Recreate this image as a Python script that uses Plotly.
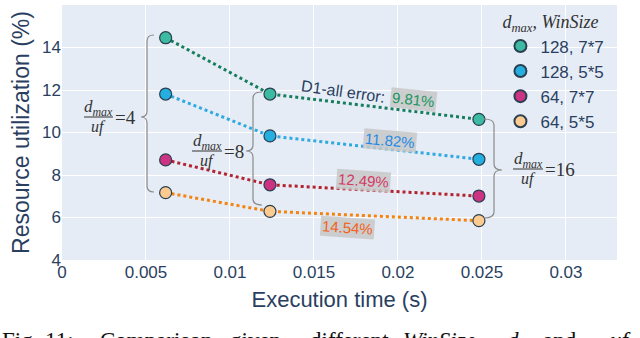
import plotly.graph_objects as go

# ---- data ----
exec_time = [0.00617, 0.01238, 0.02482]
series_names = ["128, 7*7", "128, 5*5", "64, 7*7", "64, 5*5"]
util_128_77 = [14.46, 11.81, 10.62]
util_128_55 = [11.81, 9.84, 8.74]
util_64_77 = [8.71, 7.54, 7.01]
util_64_55 = [7.17, 6.29, 5.85]
error_labels = ["9.81%", "11.82%", "12.49%", "14.54%"]
x_ticks = [0, 0.005, 0.01, 0.015, 0.02, 0.025, 0.03]
x_tick_text = ["0", "0.005", "0.01", "0.015", "0.02", "0.025", "0.03"]
y_ticks = [4, 6, 8, 10, 12, 14, 16]
caption_words = ["Fig.", "11:", "Comparison", "given", "different",
                 "<i>WinSize</i>,", "<i>d<sub>max</sub></i>,", "and", "<i>uf</i>"]

series_values = [util_128_77, util_128_55, util_64_77, util_64_55]
fill_colors = ["#3dbaa2", "#25afe0", "#cc3382", "#fdca90"]
line_colors = ["#177d5c", "#30a9e0", "#b3232f", "#f5830f"]
label_colors = ["#17955f", "#1f8ae6", "#d23a66", "#f2621a"]

# plot area geometry (pixels)
L, R, T, B = 62, 617, 5, 260
XMAX = 0.03304
YMIN, YMAX = 4, 16


def X(px):
    return (px - L) / (R - L) * XMAX


def Y(py):
    return YMAX - (py - T) / (B - T) * (YMAX - YMIN)


fig = go.Figure()
for name, vals, fc, lc in zip(series_names, series_values, fill_colors, line_colors):
    fig.add_trace(go.Scatter(
        x=exec_time, y=vals, name=name, mode="lines+markers", showlegend=False,
        line=dict(color=lc, width=3, dash="dot"),
        marker=dict(size=12, color=fc, line=dict(color="#2a3f50", width=1.2)),
    ))
# marker-only legend entries
for name, fc in zip(series_names, fill_colors):
    fig.add_trace(go.Scatter(
        x=[None], y=[None], name=name, mode="markers",
        marker=dict(size=12, color=fc, line=dict(color="#2a3f50", width=1.2)),
    ))

shapes = []


def brace(lx, top, bot, tipx, tipy, hx):
    d = 6
    p = (f"M {X(hx)},{Y(top)} Q {X(lx)},{Y(top)} {X(lx)},{Y(top + d)} "
         f"L {X(lx)},{Y(tipy - d)} Q {X(lx)},{Y(tipy)} {X(tipx)},{Y(tipy)} "
         f"Q {X(lx)},{Y(tipy)} {X(lx)},{Y(tipy + d)} "
         f"L {X(lx)},{Y(bot - d)} Q {X(lx)},{Y(bot)} {X(hx)},{Y(bot)}")
    shapes.append(dict(type="path", path=p, xref="x", yref="y",
                       line=dict(color="#8a8a8a", width=1.2)))


brace(147, 35, 192, 141, 117, 154)
brace(253, 92, 205, 246, 151, 262)
brace(494, 119, 218, 502, 170, 484)

annotations = []
SERIF = "Liberation Serif, Times New Roman, serif"


def fraction(cx, cy, x0, x1, eq):
    annotations.append(dict(x=X(cx), y=Y(cy - 9), xref="x", yref="y",
                            text="<i>d<sub>max</sub></i>", showarrow=False,
                            font=dict(family=SERIF, size=17, color="#333333")))
    annotations.append(dict(x=X(cx), y=Y(cy + 10), xref="x", yref="y",
                            text="<i>uf</i>", showarrow=False,
                            font=dict(family=SERIF, size=16, color="#333333")))
    shapes.append(dict(type="line", x0=X(x0), x1=X(x1), y0=Y(cy), y1=Y(cy),
                       xref="x", yref="y", line=dict(color="#333333", width=1)))
    annotations.append(dict(x=X(x1), y=Y(cy), xref="x", yref="y",
                            text="=" + eq, showarrow=False, xanchor="left",
                            font=dict(family=SERIF, size=19, color="#333333")))


fraction(98, 117, 84, 113, "4")
fraction(207, 151, 192, 222, "8")
fraction(528, 169, 513, 543, "16")

annotations.append(dict(x=X(343), y=Y(91), xref="x", yref="y", text="D1-all error:",
                        showarrow=False, textangle=8,
                        font=dict(family="Liberation Sans, Arial", size=16, color="#2a3f5f")))

label_pos = [(413, 99, 6), (390, 140, 5), (363, 180, 4), (347, 227, 4)]
for txt, col, (px, py, ang) in zip(error_labels, label_colors, label_pos):
    annotations.append(dict(x=X(px), y=Y(py), xref="x", yref="y", text=txt,
                            showarrow=False, textangle=ang,
                            bgcolor="rgba(200,200,200,0.85)", borderpad=1,
                            font=dict(family="Liberation Sans, Arial", size=15, color=col)))

caption_x = [1, 44, 99, 229, 309, 402, 506, 542, 609]
for word, px in zip(caption_words, caption_x):
    annotations.append(dict(x=(px - L) / (R - L), y=(B - 327) / (B - T),
                            xref="paper", yref="paper", xanchor="left", yanchor="top",
                            showarrow=False, text=word, borderpad=0,
                            font=dict(family=SERIF, size=23, color="#111111")))

fig.update_layout(
    width=640, height=338,
    margin=dict(l=L, r=640 - R, t=T, b=338 - B, autoexpand=False),
    template="plotly",
    paper_bgcolor="white",
    plot_bgcolor="#e5ecf6",
    font=dict(family="Liberation Sans, Arial", color="#2a3f5f"),
    shapes=shapes,
    annotations=annotations,
    legend=dict(
        x=0.79, y=1.0, xanchor="left", yanchor="top",
        bgcolor="rgba(0,0,0,0)",
        title=dict(text="<i>d<sub>max</sub>, WinSize</i>",
                   font=dict(family=SERIF, size=18, color="#333333")),
        font=dict(size=17, color="#2a3f5f"),
        itemsizing="constant",
    ),
    xaxis=dict(range=[0, XMAX], tickvals=x_ticks, ticktext=x_tick_text,
               showgrid=True, gridcolor="white", zeroline=False, automargin=False,
               tickfont=dict(size=17),
               title=dict(text="Execution time (s)", font=dict(size=22), standoff=10)),
    yaxis=dict(range=[YMIN, YMAX], tickvals=y_ticks,
               showgrid=True, gridcolor="white", zeroline=False, automargin=False,
               tickfont=dict(size=17),
               title=dict(text="Resource utilization (%)", font=dict(size=23), standoff=6)),
)

fig.write_html("out.html", config={"displayModeBar": False},
               post_script="document.body.style.margin='0';")
